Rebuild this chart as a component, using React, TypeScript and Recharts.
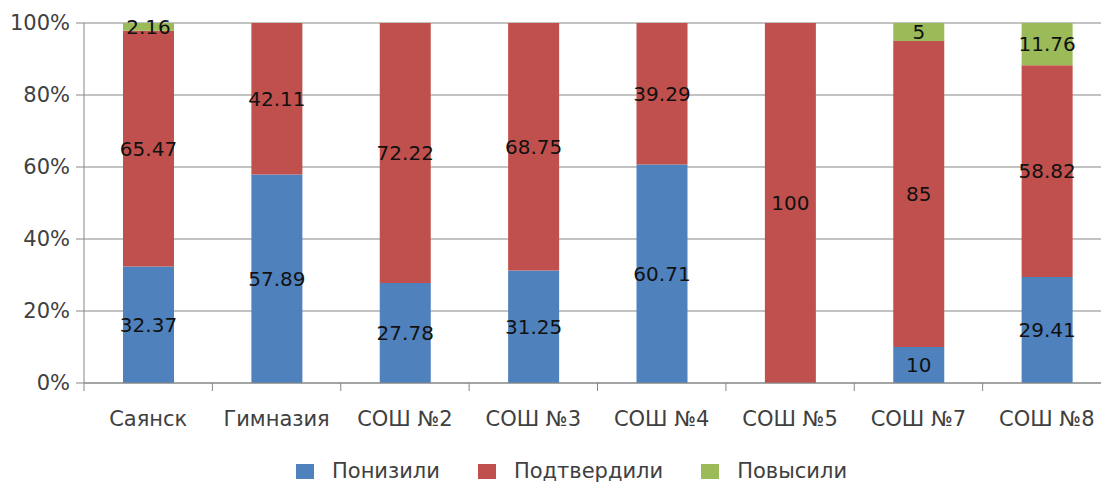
import { Bar, BarChart, CartesianGrid, LabelList, XAxis, YAxis } from "recharts";

const categories = ["Саянск", "Гимназия", "СОШ №2", "СОШ №3", "СОШ №4", "СОШ №5", "СОШ №7", "СОШ №8"];
const lowered = [32.37, 57.89, 27.78, 31.25, 60.71, 0, 10, 29.41];
const confirmed = [65.47, 42.11, 72.22, 68.75, 39.29, 100, 85, 58.82];
const raised = [2.16, 0, 0, 0, 0, 0, 5, 11.76];
const yTicks = [0, 0.2, 0.4, 0.6, 0.8, 1];

const SERIES = [
  { key: "lowered", name: "Понизили", color: "#4F81BD" },
  { key: "confirmed", name: "Подтвердили", color: "#C0504D" },
  { key: "raised", name: "Повысили", color: "#9BBB59" },
];

const data = categories.map((name, i) => ({
  name,
  lowered: lowered[i],
  confirmed: confirmed[i],
  raised: raised[i],
}));

const FONT = "DejaVu Sans";
const AXIS = "#868686";
const W = 1120;
const MARGIN = { top: 23, right: 9, bottom: 60, left: 0 };
const Y_W = 84;
const BAND = (W - MARGIN.left - MARGIN.right - Y_W) / categories.length;
const TICK_SIZE = 8;
const TICK_GAP = 20;

// category label plus the small tick mark on the left boundary of each band
function CatTick(props: any) {
  const { x, y, payload } = props;
  const axisY = y - TICK_SIZE - TICK_GAP;
  const left = x - BAND / 2;
  return (
    <g>
      <line x1={left} x2={left} y1={axisY} y2={axisY + TICK_SIZE} stroke={AXIS} />
      <text x={x} y={y} dy="0.71em" textAnchor="middle" fill="#404040" fontSize={21}>
        {payload.value}
      </text>
    </g>
  );
}

function Legend() {
  return (
    <div
      style={{
        position: "absolute",
        left: 296,
        top: 461,
        display: "flex",
        alignItems: "center",
        fontFamily: FONT,
        fontSize: 21,
        color: "#404040",
        lineHeight: "21px",
      }}
    >
      {SERIES.map((s, i) => (
        <div key={s.key} style={{ display: "flex", alignItems: "center", marginLeft: i ? 38 : 0 }}>
          <span style={{ width: 18, height: 15, background: s.color, display: "inline-block", marginRight: 18 }} />
          <span>{s.name}</span>
        </div>
      ))}
    </div>
  );
}

export default function App() {
  return (
    <div style={{ position: "absolute", left: 0, top: 0, width: 1101, height: 483, overflow: "hidden", background: "#fff" }}>
      <BarChart
        width={W}
        height={483}
        data={data}
        stackOffset="expand"
        margin={MARGIN}
        style={{ fontFamily: FONT }}
      >
        <CartesianGrid vertical={false} stroke={AXIS} strokeDasharray="" />
        <XAxis
          dataKey="name"
          interval={0}
          tickLine={false}
          axisLine={{ stroke: AXIS }}
          tickSize={TICK_SIZE}
          tickMargin={TICK_GAP}
          height={40}
          tick={<CatTick />}
        />
        <YAxis
          domain={[0, 1]}
          ticks={yTicks}
          width={Y_W}
          tickSize={8}
          tickMargin={6}
          axisLine={{ stroke: AXIS }}
          tickLine={{ stroke: AXIS }}
          tick={{ fill: "#404040", fontSize: 21 }}
          tickFormatter={(v: number) => `${Math.round(v * 100)}%`}
        />
        {SERIES.map((s) => (
          <Bar key={s.key} dataKey={s.key} name={s.name} stackId="a" fill={s.color} barSize={51} isAnimationActive={false}>
            <LabelList
              dataKey={s.key}
              position="center"
              fill="#111"
              fontSize={20}
              formatter={(v: number) => (v ? String(v) : "")}
            />
          </Bar>
        ))}
      </BarChart>
      <Legend />
    </div>
  );
}
